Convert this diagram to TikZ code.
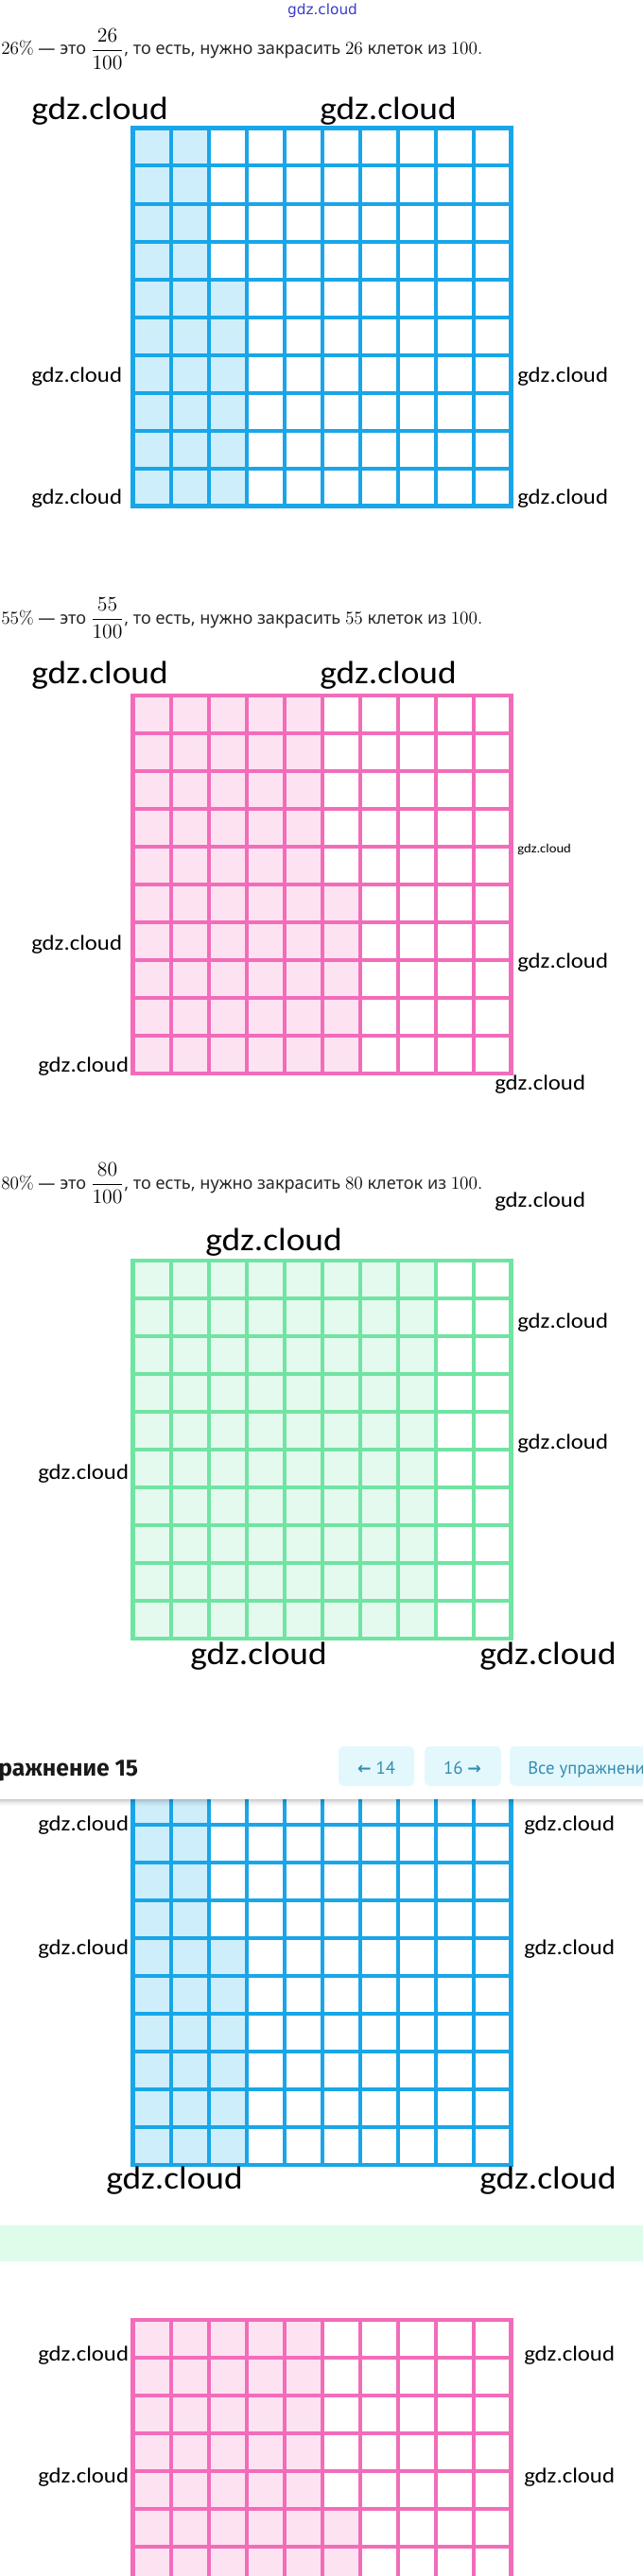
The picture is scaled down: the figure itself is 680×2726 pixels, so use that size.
\documentclass[tikz,border=0pt]{standalone}
\usepackage[no-math]{fontspec}
\usepackage{graphicx}
\setmainfont{Noto Sans}
\newfontfamily\calib{Carlito}
\newfontfamily\headf{Fira Sans}
\newfontfamily\btnf{PT Sans}
\newfontfamily\dejav{DejaVu Sans}
\definecolor{gblue}{RGB}{24,166,232}
\definecolor{gbluef}{RGB}{206,238,251}
\definecolor{gpink}{RGB}{242,108,186}
\definecolor{gpinkf}{RGB}{253,226,242}
\definecolor{ggreen}{RGB}{112,228,162}
\definecolor{ggreenf}{RGB}{229,250,238}
\definecolor{mint}{RGB}{221,252,234}
\definecolor{btnbg}{RGB}{226,248,252}
\definecolor{btntx}{RGB}{52,140,178}
\definecolor{wmark}{RGB}{60,60,200}
\definecolor{txtgray}{RGB}{40,40,40}
\newcommand{\mfnt}{\fontsize{14.4}{18}\selectfont}
\newcommand{\tfnt}{\fontsize{13.6}{16}\selectfont\color{txtgray}}
\newcommand{\pline}[1]{{\mfnt$#1\%$}{\tfnt\ — это }\raisebox{-0.6pt}{\scalebox{1.13}{\mfnt$\displaystyle\frac{#1}{100}$}}{\tfnt, то есть, нужно закрасить }{\mfnt$#1$}{\tfnt\ клеток из }{\mfnt$100.$}}
\newcommand{\gdztext}{\scalebox{1.1}[1]{gdz.cloud}}
\newcommand{\hgrid}[5]{%
  \fill[#3] (140.5,#1) rectangle ++(#4*40,400);
  \ifnum#5>0\relax
    \fill[#3] ({140.5+#4*40},{#1+(#5-1)*40}) rectangle ++(40,{(11-#5)*40});
  \fi
  \foreach \k in {1,...,9}{
    \draw[#2,gline] ({140.5+\k*40},#1) -- ++(0,400);
    \draw[#2,gline] (140.5,{#1+\k*40}) -- ++(400,0);
  }
  \draw[#2,gborder] (140.5,#1) rectangle ++(400,400);
}
\begin{document}
\begin{tikzpicture}[x=0.75pt,y=-0.75pt,
  lab/.style={anchor=base west,inner sep=0pt,text=black},
  big/.style={font=\calib\fontsize{25.5}{28}\selectfont},
  small/.style={font=\calib\fontsize{16.9}{19}\selectfont},
  tiny/.style={font=\calib\fontsize{10}{12}\selectfont},
  gline/.style={line width=3pt},
  gborder/.style={line width=3.4pt},
  pl/.style={anchor=base west,inner sep=0pt},
  btn/.style={fill=btnbg,rounded corners=4pt},
  btntext/.style={inner sep=0pt,anchor=base,text=btntx,font=\btnf\fontsize{14}{16}\selectfont}]
\useasboundingbox (0,0) rectangle (680,2726);
\clip (0,0) rectangle (680,2726);
\fill[white] (0,0) rectangle (680,2726);

% watermark
\node[inner sep=0pt,text=wmark,font=\dejav\fontsize{11.5}{13}\selectfont] (wm) at (341,11) {gdz.cloud};

% ---------- block 1 : 26%
\node[pl] (t1) at (1,58) {\pline{26}};
\hgrid{135.5}{gblue}{gbluef}{2}{5}
\node[lab,big] (a1) at (33,127) {\gdztext};
\node[lab,big] (a2) at (338,127) {\gdztext};
\node[lab,small] (a3) at (33,404.5) {\gdztext};
\node[lab,small] (a4) at (33,533) {\gdztext};
\node[lab,small] (a5) at (547,404.5) {\gdztext};
\node[lab,small] (a6) at (547,533) {\gdztext};

% ---------- block 2 : 55%
\node[pl] (t2) at (1,660) {\pline{55}};
\hgrid{736}{gpink}{gpinkf}{5}{6}
\node[lab,big] (b1) at (33,723) {\gdztext};
\node[lab,big] (b2) at (338,723) {\gdztext};
\node[lab,tiny] (b3) at (547,902) {\gdztext};
\node[lab,small] (b4) at (33,1005) {\gdztext};
\node[lab,small] (b5) at (547,1024) {\gdztext};
\node[lab,small] (b6) at (40,1134) {\gdztext};
\node[lab,small] (b7) at (523,1153) {\gdztext};

% ---------- block 3 : 80%
\node[pl] (t3) at (1,1258) {\pline{80}};
\hgrid{1334}{ggreen}{ggreenf}{8}{0}
\node[lab,small] (c1) at (523,1277) {\gdztext};
\node[lab,big] (c2) at (217,1323) {\gdztext};
\node[lab,small] (c3) at (547,1405) {\gdztext};
\node[lab,small] (c4) at (547,1533) {\gdztext};
\node[lab,small] (c5) at (40,1565) {\gdztext};
\node[lab,big] (c6) at (201,1761) {\gdztext};
\node[lab,big] (c7) at (507,1761) {\gdztext};

% ---------- block 4 : repeated blue grid under header
\hgrid{1891}{gblue}{gbluef}{2}{5}
\node[lab,small] (d1) at (40,1937) {\gdztext};
\node[lab,small] (d2) at (554,1937) {\gdztext};
\node[lab,small] (d3) at (40,2068) {\gdztext};
\node[lab,small] (d4) at (554,2068) {\gdztext};
\node[lab,big] (d5) at (112,2316) {\gdztext};
\node[lab,big] (d6) at (507,2316) {\gdztext};

% header bar
\fill[white] (0,1780) rectangle (680,1904);
\foreach \s/\o in {0/0.20,1/0.16,2/0.12,3/0.09,4/0.06,5/0.04,6/0.025,7/0.012}{
  \fill[black,fill opacity=\o] (0,{1904+\s}) rectangle (680,{1905+\s});
}
\node[anchor=base west,inner sep=0pt,text=black!90,font=\headf\bfseries\fontsize{18.5}{21}\selectfont] (hd) at (-2,1879) {ражнение 15};
\fill[btn] (358,1848) rectangle (438,1890);
\fill[btn] (449,1848) rectangle (530,1890);
\fill[btn] (539,1848) rectangle (700,1890);
\node[btntext] (bt1) at (398,1877) {{\dejav\bfseries\fontsize{13}{14}\selectfont ←}\ 14};
\node[btntext] (bt2) at (489,1877) {16\ {\dejav\bfseries\fontsize{13}{14}\selectfont →}};
\node[btntext,anchor=base west] (bt3) at (558,1877) {Все упражнени};

% mint bar
\fill[mint] (0,2355) rectangle (680,2393);

% ---------- block 5 : repeated pink grid
\hgrid{2455}{gpink}{gpinkf}{5}{6}
\node[lab,small] (e1) at (40,2498) {\gdztext};
\node[lab,small] (e2) at (554,2498) {\gdztext};
\node[lab,small] (e3) at (40,2627) {\gdztext};
\node[lab,small] (e4) at (554,2627) {\gdztext};
\end{tikzpicture}
\end{document}
